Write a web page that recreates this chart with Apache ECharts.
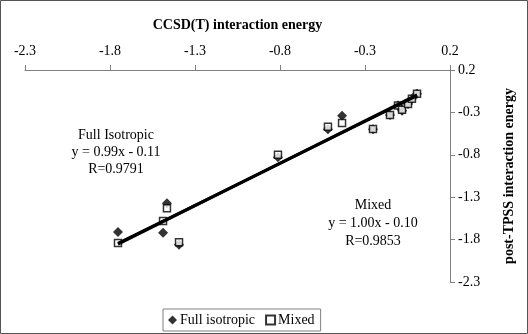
<!DOCTYPE html>
<html>
<head>
<meta charset="utf-8">
<script src="https://cdn.jsdelivr.net/npm/echarts@6/dist/echarts.min.js"></script>
<style>
  html, body { margin: 0; padding: 0; background: #fff; }
  #chart { width: 528px; height: 334px; }
</style>
</head>
<body>
<div id="chart"></div>
<script>
// values
var fullX  = [-1.753, -1.465, -1.488, -1.394, -0.812, -0.518, -0.435, -0.253, -0.153, -0.106, -0.082, -0.047, -0.024, 0.006];
var fullY  = [-1.71, -1.37, -1.72, -1.86, -0.83, -0.50, -0.34, -0.50, -0.33, -0.22, -0.28, -0.20, -0.14, -0.08];
var mixedX = [-1.753, -1.465, -1.488, -1.394, -0.812, -0.518, -0.435, -0.253, -0.153, -0.106, -0.082, -0.047, -0.024, 0.006];
var mixedY = [-1.84, -1.43, -1.58, -1.83, -0.80, -0.47, -0.425, -0.496, -0.33, -0.22, -0.27, -0.20, -0.14, -0.08];
// trendline end points
var trendFullX = [-1.753, 0.006];
var trendFullY = [-1.845, -0.104];
var trendMixedX = [-1.753, 0.006];
var trendMixedY = [-1.853, -0.094];
var axisMin = -2.3, axisMax = 0.2, axisStep = 0.5;

// axes start at -2.3, so plot on a shifted scale and relabel
var shift = -axisMin;
function pts(xs, ys) {
    return xs.map(function (x, i) { return [x + shift, ys[i] + shift]; });
}
function lab(v) { return (v - shift).toFixed(1); }

var serif = 'Liberation Serif';
var myChart = echarts.init(document.getElementById('chart'));
var option = {
    animation: false,
    backgroundColor: '#fff',
    grid: { left: 25, right: 78, top: 70, bottom: 52 },
    xAxis: {
        type: 'value',
        position: 'top',
        min: 0,
        max: axisMax + shift,
        interval: axisStep,
        name: 'CCSD(T) interaction energy',
        nameLocation: 'middle',
        nameGap: 38,
        nameTextStyle: { fontFamily: serif, fontWeight: 'bold', fontSize: 14, color: '#000' },
        axisLine: { onZero: false, lineStyle: { color: '#808080', width: 1 } },
        axisTick: { length: 5, lineStyle: { color: '#808080' } },
        axisLabel: { formatter: lab, fontFamily: serif, fontSize: 14, color: '#000', margin: 12 },
        splitLine: { show: false }
    },
    yAxis: {
        type: 'value',
        position: 'right',
        min: 0,
        max: axisMax + shift,
        interval: axisStep,
        name: 'post-TPSS interaction energy',
        nameLocation: 'middle',
        nameRotate: 90,
        nameGap: 52,
        nameTextStyle: { fontFamily: serif, fontWeight: 'bold', fontSize: 14, color: '#000' },
        axisLine: { onZero: false, lineStyle: { color: '#808080', width: 1 } },
        axisTick: { length: 5, lineStyle: { color: '#808080' } },
        axisLabel: { formatter: lab, fontFamily: serif, fontSize: 14, color: '#000', margin: 8 },
        splitLine: { show: false }
    },
    legend: {
        bottom: 3,
        left: 163,
        itemWidth: 9,
        itemHeight: 9,
        itemGap: 10,
        padding: [4, 6, 4, 5],
        borderColor: '#808080',
        borderWidth: 1,
        textStyle: { fontFamily: serif, fontSize: 14, color: '#000', padding: [0, 0, 0, -2] },
        data: ['Full isotropic', 'Mixed']
    },
    series: [{
        name: 'Full isotropic',
        type: 'scatter',
        symbol: 'diamond',
        symbolSize: 10,
        z: 2,
        itemStyle: { color: '#000' },
        data: pts(fullX, fullY)
    }, {
        name: 'Mixed',
        type: 'scatter',
        symbol: 'rect',
        symbolSize: 7,
        z: 3,
        itemStyle: { color: '#fff', borderColor: '#000', borderWidth: 1.5 },
        data: pts(mixedX, mixedY)
    }, {
        type: 'line',
        symbol: 'none',
        z: 4,
        lineStyle: { color: '#000', width: 3 },
        data: pts(trendFullX, trendFullY)
    }, {
        type: 'line',
        symbol: 'none',
        z: 4,
        lineStyle: { color: '#000', width: 3 },
        data: pts(trendMixedX, trendMixedY)
    }],
    graphic: [{
        type: 'rect',
        shape: { x: 0.5, y: 0.5, width: 527, height: 333 },
        style: { fill: 'none', stroke: '#555', lineWidth: 1 }
    }, {
        type: 'text',
        x: 116, y: 127,
        style: {
            text: 'Full Isotropic\ny = 0.99x - 0.11\nR=0.9791',
            align: 'center', verticalAlign: 'top', lineHeight: 17,
            font: '14px "Liberation Serif"', fill: '#000'
        }
    }, {
        type: 'text',
        x: 373, y: 196,
        style: {
            text: 'Mixed\ny = 1.00x - 0.10\nR=0.9853',
            align: 'center', verticalAlign: 'top', lineHeight: 18,
            font: '14px "Liberation Serif"', fill: '#000'
        }
    }]
};
myChart.setOption(option);
</script>
</body>
</html>
